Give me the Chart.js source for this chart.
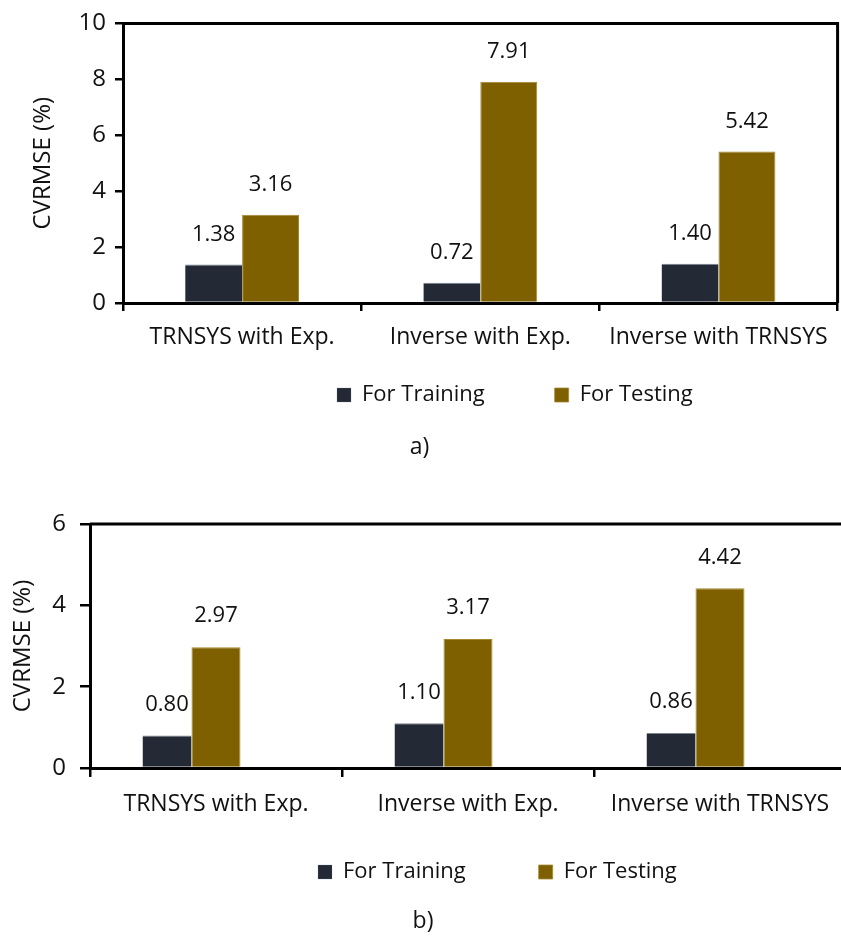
<!DOCTYPE html>
<html>
<head>
<meta charset="utf-8">
<script src="https://cdn.jsdelivr.net/npm/chart.js@4.4.1/dist/chart.umd.min.js"></script>
<style>
  html, body { margin: 0; padding: 0; background: #fff; overflow: hidden; }
  #wrap { position: relative; width: 841px; height: 948px; overflow: hidden; background: #fff; }
  canvas { position: absolute; left: 0; }
  #chartA { top: 0; }
  #chartB { top: 480px; }
</style>
</head>
<body>
<div id="wrap">
  <canvas id="chartA" width="841" height="490"></canvas>
  <canvas id="chartB" width="860" height="480"></canvas>
</div>
<script>
// CVRMSE of the models, for the training and the testing period
const categories = ['TRNSYS with Exp.', 'Inverse with Exp.', 'Inverse with TRNSYS'];
const seriesNames = ['For Training', 'For Testing'];
const trainingA = [1.38, 0.72, 1.40];
const testingA = [3.16, 7.91, 5.42];
const trainingB = [0.80, 1.10, 0.86];
const testingB = [2.97, 3.17, 4.42];
// panel b keeps an empty third series slot, so its bar pairs sit left of centre
const emptySlotB = [null, null, null];
const yTicksA = [0, 2, 4, 6, 8, 10];
const yTicksB = [0, 2, 4, 6];
const yTitle = 'CVRMSE (%)';
const captions = ['a)', 'b)'];

const FONT = '"Open Sans", "Malgun Gothic", sans-serif';
const INK = '#111111';
Chart.defaults.font.family = FONT;
Chart.defaults.color = INK;

// value written above each bar
const barValues = {
  id: 'barValues',
  afterDatasetsDraw(chart, args, opts) {
    const ctx = chart.ctx;
    ctx.save();
    ctx.font = '22px ' + FONT;
    ctx.fillStyle = INK;
    ctx.textAlign = 'center';
    ctx.textBaseline = 'middle';
    chart.data.datasets.forEach((ds, di) => {
      chart.getDatasetMeta(di).data.forEach((bar, i) => {
        const v = ds.data[i];
        if (v == null) return;
        ctx.fillText(v.toFixed(2), bar.x, bar.y - (opts.gap || 30));
      });
    });
    ctx.restore();
  }
};

// top and right edges of the plot frame
const plotFrame = {
  id: 'plotFrame',
  afterDraw(chart, args, opts) {
    const a = chart.chartArea;
    const ctx = chart.ctx;
    ctx.save();
    ctx.strokeStyle = '#000';
    ctx.lineWidth = opts.width || 3;
    ctx.beginPath();
    ctx.moveTo(a.left, a.top);
    ctx.lineTo(a.right, a.top);
    ctx.lineTo(a.right, a.bottom);
    ctx.stroke();
    ctx.restore();
  }
};

// fixed placement of the legend row and of the caption under the plot
const blockAnchor = {
  id: 'blockAnchor',
  afterLayout(chart, args, opts) {
    const lg = chart.legend;
    if (lg && opts.legendX != null) {
      const pad = lg.options.labels.padding;
      const itemH = Math.max(lg.options.labels.font.size, lg.options.labels.boxHeight);
      lg.left = opts.legendX - pad;
      lg.right = lg.left + 2000;
      lg.top = opts.legendY - itemH / 2 - pad;
      lg.bottom = lg.top + lg.height;
    }
    const tb = chart.titleBlock;
    if (tb && opts.captionY != null) {
      const lh = tb.options.font.size * 1.2;
      tb.top = opts.captionY - lh / 2;
      tb.bottom = tb.top + tb.height;
    }
  }
};

function makeChart(id, cfg) {
  const datasets = [
    { label: seriesNames[0], data: cfg.training, backgroundColor: '#232A36',
      borderColor: '#7c838d', borderWidth: { top: 1, left: 0, right: 0, bottom: 0 } },
    { label: seriesNames[1], data: cfg.testing, backgroundColor: '#7F6000',
      borderColor: '#a3882e', borderWidth: { top: 1, left: 1, right: 1, bottom: 0 } }
  ];
  if (cfg.emptySlot) {
    datasets.push({ label: '', data: cfg.emptySlot, backgroundColor: 'rgba(0,0,0,0)', borderWidth: 0 });
  }
  return new Chart(document.getElementById(id), {
    type: 'bar',
    data: { labels: categories, datasets },
    options: {
      responsive: false,
      animation: false,
      events: [],
      categoryPercentage: cfg.catPct,
      barPercentage: 1,
      layout: { padding: { top: cfg.padTop, right: cfg.padRight, left: 0, bottom: 0 } },
      scales: {
        x: {
          offset: true,
          border: { display: true, color: '#000', width: 3 },
          grid: { offset: true, drawOnChartArea: false, drawTicks: true, tickLength: cfg.xTick,
                  color: '#000', lineWidth: 2.5 },
          ticks: { font: { size: 23 }, color: INK, padding: cfg.xLabelPad, maxRotation: 0, autoSkip: false },
          afterFit(s) { s.height = cfg.xHeight; }
        },
        y: {
          min: 0,
          max: cfg.yTicks[cfg.yTicks.length - 1],
          border: { display: true, color: '#000', width: 3 },
          grid: { drawOnChartArea: false, drawTicks: true, tickLength: cfg.yTick, color: '#000', lineWidth: 2.5 },
          ticks: { font: { size: 24 }, color: INK, padding: cfg.yLabelPad },
          afterBuildTicks(s) { s.ticks = cfg.yTicks.map(v => ({ value: v })); },
          title: { display: true, text: yTitle, font: { size: 24 }, color: INK,
                   padding: { top: cfg.yTitlePad, bottom: 0 } },
          afterFit(s) { s.width = cfg.yWidth; }
        }
      },
      plugins: {
        tooltip: { enabled: false },
        legend: {
          position: 'bottom',
          align: 'start',
          labels: { font: { size: 22 }, color: INK, boxWidth: 14, boxHeight: 14, padding: cfg.legendGap,
                    filter: item => item.text !== '' }
        },
        title: {
          display: true,
          position: 'bottom',
          text: cfg.caption,
          font: { size: 23, weight: 'normal' },
          color: INK,
          padding: 0
        },
        blockAnchor: { legendX: cfg.legendX, legendY: cfg.legendY, captionY: cfg.captionY },
        barValues: { gap: cfg.labelGap },
        plotFrame: { width: 3 }
      }
    },
    plugins: [barValues, plotFrame, blockAnchor]
  });
}

makeChart('chartA', {
  training: trainingA, testing: testingA, yTicks: yTicksA, caption: captions[0],
  catPct: 0.478, padTop: 19, padRight: 2, labelGap: 30,
  xTick: 8, xLabelPad: 13, xHeight: 57.4,
  yTick: 8, yLabelPad: 9, yWidth: 123, yTitlePad: 28.6,
  legendGap: 70, legendX: 337, legendY: 395, captionY: 447
});

makeChart('chartB', {
  training: trainingB, testing: testingB, emptySlot: emptySlotB, yTicks: yTicksB, caption: captions[1],
  catPct: 0.5833, padTop: 44, padRight: 14, labelGap: 31,
  xTick: 9, xLabelPad: 14, xHeight: 59.4,
  yTick: 10, yLabelPad: 14, yWidth: 90, yTitlePad: 8.6,
  legendGap: 73, legendX: 318, legendY: 392, captionY: 441
});
</script>
</body>
</html>
